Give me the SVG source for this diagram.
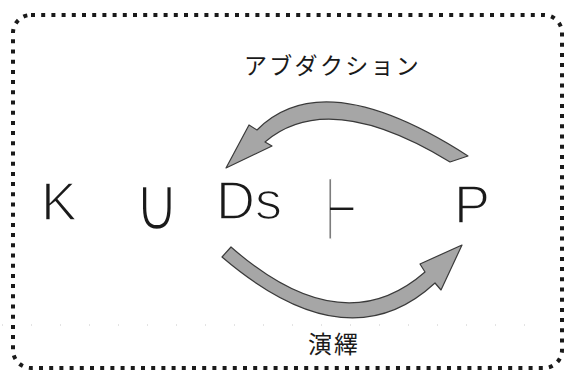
<svg xmlns="http://www.w3.org/2000/svg" width="565" height="371" viewBox="0 0 565 371">
<style>
.frame{fill:none;stroke:#1a1a1a;stroke-width:4;stroke-dasharray:4 6.2}
.scan{fill:none;stroke:#c8c8c8;stroke-width:1;stroke-dasharray:1 28}
.arrow{fill:#a6a6a6;stroke:#3a3a3a;stroke-width:1.2;stroke-linejoin:round}
.sym{font-family:"Liberation Sans",Arial,sans-serif;font-size:54px;fill:#1a1a1a;stroke:#fff;stroke-width:1.6}
.math{font-family:"DejaVu Sans",sans-serif;fill:#1a1a1a;stroke:#fff}
.jp{font-family:"Liberation Sans","Noto Sans CJK JP",sans-serif;fill:#1a1a1a}
</style>
<rect class="frame" x="13" y="15" width="549" height="353" rx="18" ry="18"/>
<line class="scan" x1="2" y1="325" x2="545" y2="325"/>
<g id="label-abduction"><text class="jp" x="244" y="74" font-size="23" letter-spacing="2.3">アブダクション</text></g>
<g id="label-deduction"><text class="jp" x="308" y="353" font-size="24" letter-spacing="2">演繹</text></g>
<g id="node-K"><text class="sym" x="41" y="220">K</text></g>
<g id="node-union"><text class="math" font-size="76" stroke-width="2.4" transform="translate(134 230) scale(0.82 1)">∪</text></g>
<g id="node-Ds"><text class="sym" x="216" y="219">Ds</text></g>
<g id="node-turnstile"><text class="math" font-size="89" stroke-width="3" transform="translate(326 240) scale(0.4 1)">⊢</text></g>
<g id="node-P"><text class="sym" x="454" y="223">P</text></g>
<g id="connectors">
<path id="abduction-arrow" class="arrow" d="M468,156 Q323.5,63 257,130 L249,125 L226,168 L272,146 L265,142 Q328.5,88 450,162 Z"/>
<path id="deduction-arrow" class="arrow" d="M231,247 Q342,344.5 425,272 L420,264 L462,245 L441,290 L435,283 Q347.5,364 222,257 Z"/>
</g>
</svg>
